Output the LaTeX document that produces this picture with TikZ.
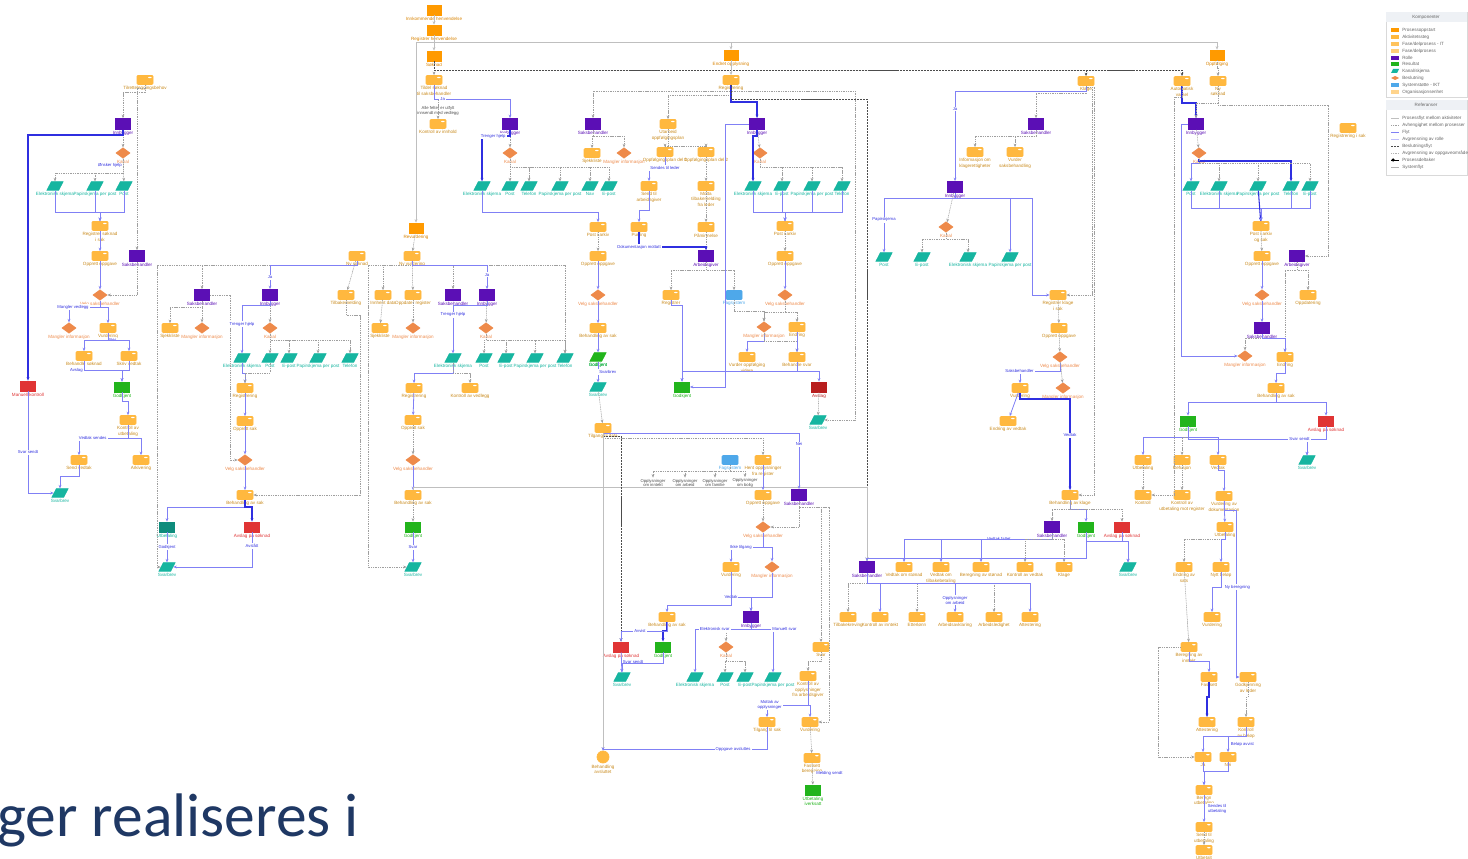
\documentclass[tikz,border=0pt]{standalone}
\usepackage{fontspec}
\setsansfont{Liberation Sans}
\newfontfamily\slidefont{Carlito}
\usepackage{tikz}
\usetikzlibrary{arrows.meta,shapes.geometric,calc}
\definecolor{orD}{HTML}{FF9A00}
\definecolor{orL}{HTML}{FFB83F}
\definecolor{orT}{HTML}{C98A1C}
\definecolor{pur}{HTML}{5B0FB5}
\definecolor{tea}{HTML}{16B5A0}
\definecolor{teaD}{HTML}{0E8C7C}
\definecolor{dia}{HTML}{EE8A4A}
\definecolor{grn}{HTML}{22B41C}
\definecolor{rdd}{HTML}{E03434}
\definecolor{rdD}{HTML}{B81E1E}
\definecolor{sky}{HTML}{4EA8EA}
\definecolor{blu}{HTML}{8080F5}
\definecolor{bld}{HTML}{2F2FE0}
\definecolor{navy}{HTML}{1F3864}
\definecolor{legbg}{HTML}{EEF1F5}

\begin{document}
\begin{tikzpicture}[x=0.2mm,y=-0.2mm,
>={Stealth[length=0.7mm,width=0.55mm]},
lab/.style={font=\fontsize{2.6}{3}\selectfont\sffamily,align=center,inner sep=0.25mm},
inbox/.style={draw=orD,fill=orD,minimum width=2.8mm,minimum height=2mm,inner sep=0pt,label={[lab,text=orD!85!black]below:#1}},
procbox/.style={draw=orL,fill=orL,rounded corners=0.2mm,minimum width=3.2mm,minimum height=1.8mm,inner sep=0pt,
  path picture={\fill[white] ([xshift=-1mm,yshift=-0.3mm]path picture bounding box.north east) rectangle ++(0.7mm,-0.25mm);},
  label={[lab,text=orT]below:#1}},
rolebox/.style={draw=pur,fill=pur,minimum width=3mm,minimum height=2.2mm,inner sep=0pt,label={[lab,text=pur]below:#1}},
chanbox/.style={trapezium,trapezium left angle=60,trapezium right angle=120,trapezium stretches=true,draw=tea,fill=tea,minimum width=3.2mm,minimum height=1.7mm,inner sep=0.15mm,label={[lab,text=tea]below:#1}},
okchan/.style={chanbox=#1,draw=grn,fill=grn,label={[lab,text=grn]below:#1}},
decbox/.style={diamond,draw=dia,fill=dia,minimum width=2.8mm,minimum height=2.1mm,inner sep=0.1mm,label={[lab,text=dia]below:#1}},
okbox/.style={draw=grn,fill=grn,minimum width=3mm,minimum height=2mm,inner sep=0pt,label={[lab,text=grn]below:#1}},
nobox/.style={draw=rdd,fill=rdd,minimum width=3mm,minimum height=2mm,inner sep=0pt,label={[lab,text=rdd]below:#1}},
nodbox/.style={draw=rdD,fill=rdD,minimum width=3mm,minimum height=2mm,inner sep=0pt,label={[lab,text=rdD]below:#1}},
paybox/.style={draw=teaD,fill=teaD,minimum width=3mm,minimum height=2mm,inner sep=0pt,label={[lab,text=tea]below:#1}},
sysbox/.style={draw=sky,fill=sky,rounded corners=0.2mm,minimum width=3.2mm,minimum height=1.8mm,inner sep=0pt,label={[lab,text=sky]below:#1}},
endbox/.style={circle,draw=orL,fill=orL,minimum size=2.4mm,inner sep=0pt,label={[lab,text=orT]below:#1}},
elab/.style={font=\fontsize{2.4}{2.8}\selectfont\sffamily,text=bld,fill=white,inner sep=0.2mm,align=center},
glab/.style={font=\fontsize{2.4}{2.8}\selectfont\sffamily,text=black!70,fill=white,inner sep=0.2mm,align=center},
leg/.style={font=\fontsize{2.6}{3}\selectfont\sffamily,text=black!60,anchor=west,inner sep=0pt},
gd/.style={draw=gray!75,line width=0.3pt,dash pattern=on 0.6pt off 0.4pt,->},
gs/.style={draw=gray!50,line width=0.3pt,->},
bl/.style={draw=blu,line width=0.45pt,->},
bd/.style={draw=bld,line width=0.6pt,->},
kd/.style={draw=black!70,line width=0.4pt,dash pattern=on 1.2pt off 0.5pt,->}
]
\fill[white] (0,0) rectangle (1468,859);
\useasboundingbox (0,0) rectangle (1468,859);

% top column
\node[inbox=Innkommende henvendelse] (s1) at (434,10) {};
\node[inbox=Registrer henvendelse] (s2) at (434,30) {};
\node[inbox=Søknad] (s3) at (434,56) {};
\node[procbox={Tildel søknad\\til saksbehandler}] (p1) at (434,80) {};
\node[glab] (p2t) at (438,111) {Alle felter er utfylt\\innsendt med vedlegg};
\node[procbox=Kontroll av innhold] (p2) at (438,124) {};
\node[inbox=Revurdering] (s4) at (416,228) {};
\node[procbox=Ny vurdering] (p3) at (412,256) {};

% left
\node[procbox=Tilretteleggingsbehov] (a0) at (145,80) {};
\node[rolebox=Innbygger] (a1) at (123,124) {};
\node[decbox=Kanal] (a2) at (123,153) {};
\node[chanbox=Elektronisk skjema] (a3) at (55,186) {};
\node[chanbox=Papirskjema per post] (a4) at (95,186) {};
\node[chanbox=Post] (a5) at (124,186) {};
\node[procbox={Registrer søknad\\i sak}] (a6) at (100,226) {};
\node[procbox=Opprett oppgave] (a7) at (100,256) {};
\node[rolebox=Saksbehandler] (a8) at (137,256) {};
\node[decbox=Velg saksbehandler] (a9) at (100,295) {};
\node[decbox=Mangler informasjon] (a10) at (69,328) {};
\node[procbox=Vurdering] (a11) at (108,328) {};
\node[procbox=Behandle søknad] (a12) at (84,356) {};
\node[procbox=Skriv vedtak] (a13) at (129,356) {};
\node[nobox=Manuell kontroll] (a14) at (28,386) {};
\node[okbox=Godkjent] (a15) at (122,387) {};
\node[procbox={Kontroll av\\utbetaling}] (a16) at (128,420) {};
\node[procbox=Send vedtak] (a17) at (79,460) {};
\node[procbox=Arkivering] (a18) at (141,460) {};
\node[chanbox=Svarbrev] (a19) at (60,493) {};

% block b
\node[procbox=Ny søknad] (b0) at (357,256) {};
\node[rolebox=Saksbehandler] (b1) at (202,295) {};
\node[rolebox=Innbygger] (b2) at (270,295) {};
\node[procbox=Tilbakemelding] (b3) at (346,295) {};
\node[procbox=Sjekkliste] (b4) at (170,328) {};
\node[decbox=Mangler informasjon] (b5) at (202,328) {};
\node[decbox=Kanal] (b6) at (270,328) {};
\node[chanbox=Elektronisk skjema] (b7) at (242,358) {};
\node[chanbox=Post] (b8) at (270,358) {};
\node[chanbox=E-post] (b9) at (289,358) {};
\node[chanbox=Papirskjema per post] (b10) at (318,358) {};
\node[chanbox=Telefon] (b11) at (350,358) {};
\node[procbox=Registrering] (b12) at (245,388) {};
\node[procbox=Opprett sak] (b13) at (245,421) {};
\node[decbox=Velg saksbehandler] (b14) at (245,460) {};
\node[procbox=Behandling av sak] (b15) at (245,495) {};
\node[paybox=Utbetaling] (b16) at (167,527) {};
\node[nobox=Avslag på søknad] (b17) at (252,527) {};
\node[chanbox=Svarbrev] (b18) at (167,567) {};

% block c
\node[procbox=Innhent data] (c1) at (383,295) {};
\node[procbox=Oppdater register] (c2) at (413,295) {};
\node[rolebox=Saksbehandler] (c3) at (453,295) {};
\node[rolebox=Innbygger] (c4) at (487,295) {};
\node[procbox=Sjekkliste] (c5) at (380,328) {};
\node[decbox=Mangler informasjon] (c6) at (413,328) {};
\node[decbox=Kanal] (c7) at (486,328) {};
\node[chanbox=Elektronisk skjema] (c8) at (453,358) {};
\node[chanbox=Post] (c9) at (484,358) {};
\node[chanbox=E-post] (c10) at (506,358) {};
\node[chanbox=Papirskjema per post] (c11) at (535,358) {};
\node[chanbox=Telefon] (c12) at (565,358) {};
\node[procbox=Registrering] (c13) at (414,388) {};
\node[procbox=Kontroll av vedlegg] (c14) at (470,388) {};
\node[procbox=Opprett sak] (c15) at (413,420) {};
\node[decbox=Velg saksbehandler] (c16) at (413,460) {};
\node[procbox=Behandling av sak] (c17) at (413,495) {};
\node[okbox=Godkjent] (c18) at (413,527) {};
\node[chanbox=Svarbrev] (c19) at (413,567) {};

% block d
\node[rolebox=Innbygger] (d1) at (510,124) {};
\node[decbox=Kanal] (d2) at (510,153) {};
\node[chanbox=Elektronisk skjema] (d3) at (482,186) {};
\node[chanbox=Post] (d4) at (510,186) {};
\node[chanbox=Telefon] (d5) at (529,186) {};
\node[chanbox=Papirskjema per post] (d6) at (560,186) {};
\node[chanbox=Nav] (d7) at (590,186) {};
\node[chanbox=E-post] (d8) at (609,186) {};
\node[procbox=Post i arkiv] (d9) at (598,227) {};
\node[procbox=Opprett oppgave] (d10) at (598,256) {};
\node[decbox=Velg saksbehandler] (d11) at (598,295) {};
\node[procbox=Behandling av sak] (d12) at (598,328) {};
\node[okchan=Godkjent] (d13) at (598,357) {};
\node[chanbox=Svarbrev] (d14) at (598,387) {};
\node[rolebox=Saksbehandler] (d15) at (593,124) {};
\node[procbox=Sjekkliste] (d16) at (592,153) {};
\node[decbox=Mangler informasjon] (d17) at (624,153) {};
\node[procbox={Utarbeid\\oppfølgingsplan}] (d18) at (668,124) {};
\node[procbox=Oppfølgingsplan del 1] (d19) at (665,152) {};
\node[procbox=Oppfølgingsplan del 2] (d20) at (706,152) {};
\node[procbox={Send til\\arbeidsgiver}] (d21) at (649,186) {};
\node[procbox={Motta\\tilbakemelding\\fra leder}] (d22) at (706,186) {};
\node[procbox=Purring] (d23) at (639,227) {};
\node[procbox=Påminnelse] (d24) at (706,227) {};
\node[rolebox=Arbeidsgiver] (d25) at (706,256) {};
\node[procbox=Registrer] (d26) at (671,295) {};
\node[sysbox=Fagsystem] (d27) at (734,295) {};
\node[decbox=Mangler informasjon] (d28) at (764,327) {};
\node[procbox=Endring] (d29) at (797,327) {};
\node[procbox={Vurder oppfølging\\videre}] (d30) at (747,357) {};
\node[procbox=Behandle svar] (d31) at (797,357) {};
\node[okbox=Godkjent] (d32) at (682,387) {};
\node[nodbox=Avslag] (d33) at (819,387) {};
\node[rolebox=Innbygger] (d34) at (757,124) {};
\node[decbox=Kanal] (d35) at (760,153) {};
\node[chanbox=Elektronisk skjema] (d36) at (753,186) {};
\node[chanbox=E-post] (d37) at (782,186) {};
\node[chanbox=Papirskjema per post] (d38) at (812,186) {};
\node[chanbox=Telefon] (d39) at (842,186) {};
\node[procbox=Post i arkiv] (d40) at (785,226) {};
\node[procbox=Opprett oppgave] (d41) at (785,256) {};
\node[decbox=Velg saksbehandler] (d42) at (785,295) {};
\node[chanbox=Svarbrev] (d43) at (818,420) {};
\node[inbox=Endret opplysning] (d44) at (731,55) {};
\node[procbox=Registrering] (d45) at (731,80) {};

% block e
\node[procbox=Tilgang til data] (e1) at (603,428) {};
\node[sysbox=Fagsystem] (e2) at (730,460) {};
\node[procbox={Hent opplysninger\\fra register}] (e3) at (763,460) {};
\node[glab] (e2a) at (653,483) {Opplysninger\\om inntekt};
\node[glab] (e2b) at (685,483) {Opplysninger\\om arbeid};
\node[glab] (e2c) at (715,483) {Opplysninger\\om familie};
\node[glab] (e2d) at (745,483) {Opplysninger\\om bolig};
\node[procbox=Opprett oppgave] (e4) at (763,495) {};
\node[rolebox=Saksbehandler] (e5) at (799,495) {};
\node[decbox=Velg saksbehandler] (e6) at (763,527) {};
\node[procbox=Vurdering] (e7) at (731,567) {};
\node[decbox=Mangler informasjon] (e8) at (772,567) {};
\node[rolebox=Innbygger] (e9) at (751,617) {};
\node[procbox=Behandling av sak] (e10) at (667,617) {};
\node[nobox=Avslag på søknad] (e11) at (621,647) {};
\node[okbox=Godkjent] (e12) at (663,647) {};
\node[decbox=Kanal] (e13) at (726,647) {};
\node[procbox=Svar] (e14) at (821,647) {};
\node[chanbox=Svarbrev] (e15) at (622,677) {};
\node[chanbox=Elektronisk skjema] (e16) at (695,677) {};
\node[chanbox=Post] (e17) at (725,677) {};
\node[chanbox=E-post] (e18) at (745,677) {};
\node[chanbox=Papirskjema per post] (e19) at (773,677) {};
\node[procbox={Kontroll av\\opplysninger\\fra arbeidsgiver}] (e20) at (808,676) {};
\node[procbox=Tilgang til sak] (e21) at (767,722) {};
\node[procbox=Vurdering] (e22) at (810,722) {};
\node[procbox={Fastsett\\beregning}] (e23) at (812,758) {};
\node[okbox={Utbetaling\\iverksatt}] (e24) at (813,790) {};
\node[endbox={Behandling\\avsluttet}] (e25) at (603,757) {};

% block f
\node[procbox=Klage] (f0) at (1086,81) {};
\node[rolebox=Saksbehandler] (f1) at (1036,124) {};
\node[procbox={Informasjon om\\klagerettigheter}] (f2) at (975,152) {};
\node[procbox={Vurder\\saksbehandling}] (f3) at (1015,152) {};
\node[rolebox=Innbygger] (f4) at (955,187) {};
\node[decbox=Kanal] (f5) at (946,227) {};
\node[chanbox=Post] (f6) at (884,257) {};
\node[chanbox=E-post] (f7) at (922,257) {};
\node[chanbox=Elektronisk skjema] (f8) at (968,257) {};
\node[chanbox=Papirskjema per post] (f9) at (1010,257) {};
\node[procbox={Registrer klage\\i sak}] (f10) at (1058,295) {};
\node[procbox=Opprett oppgave] (f11) at (1059,328) {};
\node[decbox=Velg saksbehandler] (f12) at (1060,357) {};
\node[decbox=Mangler informasjon] (f13) at (1063,388) {};
\node[procbox=Vurdering] (f14) at (1020,388) {};
\node[procbox=Endring av vedtak] (f15) at (1008,421) {};
\node[procbox=Behandling av klage] (f16) at (1070,495) {};

% block g
\node[inbox=Oppfølging] (g0) at (1217,55) {};
\node[procbox={Automatisk\\varsel}] (g1) at (1182,81) {};
\node[procbox={Ny\\søknad}] (g2) at (1218,81) {};
\node[rolebox=Innbygger] (g3) at (1196,124) {};
\node[decbox=Kanal] (g4) at (1199,153) {};
\node[chanbox=Post] (g5) at (1191,186) {};
\node[chanbox=Elektronisk skjema] (g6) at (1219,186) {};
\node[chanbox=Papirskjema per post] (g7) at (1258,186) {};
\node[chanbox=Telefon] (g8) at (1291,186) {};
\node[chanbox=E-post] (g9) at (1310,186) {};
\node[procbox={Post i arkiv\\og sak}] (g10) at (1261,226) {};
\node[procbox=Opprett oppgave] (g11) at (1262,256) {};
\node[rolebox=Arbeidsgiver] (g12) at (1297,256) {};
\node[decbox=Velg saksbehandler] (g13) at (1262,295) {};
\node[procbox=Oppdatering] (g14) at (1308,295) {};
\node[rolebox=Saksbehandler] (g15) at (1262,328) {};
\node[decbox=Mangler informasjon] (g16) at (1245,356) {};
\node[procbox=Endring] (g17) at (1285,357) {};
\node[procbox=Behandling av sak] (g18) at (1276,388) {};
\node[okbox=Godkjent] (g19) at (1188,421) {};
\node[nobox=Avslag på søknad] (g20) at (1326,421) {};
\node[procbox=Registrering i sak] (g21) at (1348,128) {};
\node[chanbox=Svarbrev] (g22) at (1307,460) {};
\node[procbox=Utbetaling] (g23) at (1143,460) {};
\node[procbox=Refusjon] (g24) at (1182,460) {};
\node[procbox=Vedtak] (g25) at (1218,460) {};

% block h
\node[procbox=Kontroll] (h1) at (1143,495) {};
\node[procbox={Kontroll av\\utbetaling mot register}] (h2) at (1182,495) {};
\node[procbox={Vurdering av\\dokumentasjon}] (h3) at (1224,496) {};
\node[procbox=Utbetaling] (h4) at (1225,527) {};
\node[procbox={Endring av\\sats}] (h5) at (1184,567) {};
\node[procbox=Nytt beløp] (h6) at (1221,567) {};
\node[procbox=Vurdering] (h7) at (1212,617) {};
\node[procbox={Beregning av\\inntekt}] (h8) at (1189,647) {};
\node[procbox=Fastsett] (h9) at (1209,677) {};
\node[procbox={Godkjenning\\av leder}] (h10) at (1248,677) {};
\node[procbox=Attestering] (h11) at (1207,722) {};
\node[procbox={Kontroll\\av beløp}] (h12) at (1246,722) {};
\node[procbox=Ja] (h13) at (1203,757) {};
\node[procbox=Nei] (h14) at (1228,757) {};
\node[procbox={Beregn\\utbetaling}] (h15) at (1204,790) {};
\node[procbox={Send til\\utbetaling}] (h16) at (1204,827) {};
\node[procbox=Utbetalt] (h17) at (1204,850) {};

% block i
\node[rolebox=Saksbehandler] (i1) at (1052,527) {};
\node[okbox=Godkjent] (i2) at (1086,527) {};
\node[nobox=Avslag på søknad] (i3) at (1122,527) {};
\node[chanbox=Svarbrev] (i4) at (1128,567) {};
\node[rolebox=Saksbehandler] (i5) at (867,567) {};
\node[procbox=Vedtak om stønad] (i6) at (904,567) {};
\node[procbox={Vedtak om\\tilbakebetaling}] (i7) at (941,567) {};
\node[procbox=Beregning av stønad] (i8) at (981,567) {};
\node[procbox=Kontroll av vedtak] (i9) at (1025,567) {};
\node[procbox=Klage] (i10) at (1064,567) {};
\node[procbox=Tilbakekreving] (i11) at (848,617) {};
\node[procbox=Kontroll av inntekt] (i12) at (880,617) {};
\node[procbox=Etterlønn] (i13) at (917,617) {};
\node[procbox=Arbeidsavklaring] (i14) at (955,617) {};
\node[procbox=Arbeidsledighet] (i15) at (994,617) {};
\node[procbox=Attestering] (i16) at (1030,617) {};

% connectors: top
\draw[gs] (s1) -- (s2);
\draw[gs] (s2) -- (s3);
\draw[gd] (s3) -- (p1);
\draw[gs] (s2) -- ++(0,12) -| (d44);
\draw[gs] (s2) -- ++(0,12) -| (g0);
\draw[gs] (s2) -- ++(0,12) -| (s4);
\draw[kd] (s3) -- ++(0,14) -| (g1);
\draw[kd] (s3) -- ++(0,14) -| (f0);
\draw[gd] (p1) -- ++(0,19) -| (p2);
\draw[bl] (p1) -- ++(0,19) node[elab,pos=1,right=1mm]{Ja} -| (d1);
\draw[gd] (s4) -- (p3);
\draw[gs] (d44) -- (d45);
\draw[gd] (d45) -- ++(0,11) -| (d15);
\draw[gd] (d45) -- ++(0,11) -- ++(124,0) |- (d43);
\draw[gd] (d45) -- ++(0,15) -| (d18);
\draw[bd] (d45) -- ++(0,22) -| (d34);
\draw[kd] (d45) -- ++(0,19) -| (i5);

% connectors: left
\draw[gd] (a0) -- ++(0,12) -| (a1);
\draw[gd] (a0) -- ++(0,8) -| (a8);
\draw[gd] (a1) -- (a2);
\draw[bd] (a1) -- ++(0,11) -| (a14);
\draw[gd] (a2) -- ++(0,20) node[elab,pos=.5,left]{Ønsker hjelp} -| (a3);
\draw[gd] (a2) -- ++(0,20) -| (a4);
\draw[gd] (a2) -- (a5);
\draw[bl] (a3) -- ++(0,26) -| (a6);
\draw[bl] (a4) -- ++(0,26) -| (a6);
\draw[bl] (a5) -- ++(0,26) -| (a6);
\draw[bl] (a6) -- (a7);
\draw[bl] (a7) -- (a9);
\draw[gd] (a8) |- (a9);
\draw[bl] (a9) -- ++(0,12) node[elab,pos=1,left=2mm]{Mangler vedlegg} -| (a10);
\draw[bl] (a9) -- ++(0,12) -| (a11);
\draw[bl] (a11) -- ++(0,12) node[elab,pos=1,right]{Nei} -| (a12);
\draw[bl] (a11) -- ++(0,12) -| (a13);
\draw[bl] (a12) -- ++(0,14) node[elab,pos=1,left]{Avslag} -| (a15);
\draw[bl] (a13) -- ++(0,14) -| (a15);
\draw[bl] (a15) -- ++(0,14) -| (a16);
\draw[bl] (a16) -- ++(0,18) node[elab,pos=1,left=4mm]{Vedtak sendes} -| (a17);
\draw[bl] (a16) -- ++(0,18) -| (a18);
\draw[bl] (a17) -- ++(0,16) -| (a19);
\draw[bl] (a14) |- node[elab,pos=.3]{Svar sendt} (a19);

% connectors: block b
\draw[gd] (b0) -- ++(0,9) -- ++(-200,0) |- (b18);
\draw[gd] (b0) -- ++(0,9) -| (b1);
\draw[bl] (b0) -- ++(0,9) -| node[elab,pos=.75]{Ja} (b2);
\draw[gd] (b0) -- (b3);
\draw[gd] (b3) -- ++(0,20) -- ++(14,0) |- (b15);
\draw[gd] (b1) -- ++(0,12) -| (b4);
\draw[gd] (b1) -- (b5);
\draw[gd] (b1.east) -- ++(20,0) |- (b14);
\draw[gd] (b2) -- (b6);
\draw[bl] (b2) -- ++(0,10) -| node[elab,pos=.7]{Trenger hjelp} (b7);
\draw[gd] (b6) -- ++(0,12) -| (b8);
\draw[gd] (b6) -- ++(0,12) -| (b9);
\draw[gd] (b6) -- ++(0,12) -| (b10);
\draw[gd] (b6) -- ++(0,12) -| (b11);
\draw[bl] (b7) -- ++(0,15) -| (b12);
\draw[gd] (b8) -- ++(0,15) -| (b12);
\draw[bl] (b12) -- (b13);
\draw[bl] (b13) -- (b14);
\draw[bl] (b14) -- (b15);
\draw[bl] (b15) -- ++(0,12) -| (b16);
\draw[bd] (b15) -- ++(0,12) -| (b17);
\draw[bl] (b16) -- node[elab]{Godkjent} (b18);
\draw[bl] (b17) |- node[elab,pos=.2]{Avslått} (b18);

% connectors: block c
\draw[gd] (p3) -- ++(0,9) -- ++(-44,0) |- (c19);
\draw[gd] (p3) -- ++(0,9) -| (c12);
\draw[gd] (p3) -- ++(0,9) -| (c1);
\draw[gd] (p3) -- (c2);
\draw[gd] (p3) -- ++(0,9) -| (c3);
\draw[bl] (p3) -- ++(0,9) -| node[elab,pos=.7]{Ja} (c4);
\draw[gd] (c1) -- (c5);
\draw[gd] (c2) -- (c6);
\draw[gd] (c4) -- (c7);
\draw[bl] (c4) -- ++(0,10) -| node[elab,pos=.6]{Trenger hjelp} (c8);
\draw[gd] (c7) -- ++(0,12) -| (c9);
\draw[gd] (c7) -- ++(0,12) -| (c10);
\draw[gd] (c7) -- ++(0,12) -| (c11);
\draw[gd] (c7) -- ++(0,12) -| (c12);
\draw[bl] (c8) -- ++(0,15) -| (c13);
\draw[gd] (c8) -- ++(0,15) -| (c14);
\draw[bl] (c13) -- (c15);
\draw[gd] (c15) -- (c16);
\draw[bl] (c16) -- (c17);
\draw[gd] (c17) -- (c18);
\draw[bl] (c18) -- node[elab]{Svar} (c19);
\draw[gs] (c17) -- ++(0,-8) -| (i5);

% connectors: block d
\draw[gd] (d1) -- (d2);
\draw[bd] (d1) -- ++(0,12) -| node[elab,pos=.3]{Trenger hjelp} (d3);
\draw[gd] (d2) -- ++(0,14) -| (d4);
\draw[gd] (d2) -- ++(0,14) -| (d5);
\draw[gd] (d2) -- ++(0,14) -| (d6);
\draw[gd] (d2) -- ++(0,14) -| (d7);
\draw[gd] (d2) -- ++(0,14) -| (d8);
\draw[bl] (d3) -- ++(0,26) -| (d9);
\draw[gd] (d9) -- (d10);
\draw[bl] (d10) -- (d11);
\draw[bl] (d11) -- (d12);
\draw[bl] (d12) -- (d13);
\draw[bl] (d13) -- node[elab,right]{Svarbrev} (d14);
\draw[gd] (d15) -- ++(0,12) -| (d16);
\draw[gd] (d15) -- ++(0,12) -| (d17);
\draw[gd] (d18) -- ++(0,22) -| (d19);
\draw[gd] (d18) -- ++(0,22) -| (d20);
\draw[bl] (d19) -- ++(0,16) node[elab,pos=1]{Sendes til leder} -| (d21);
\draw[gd] (d20) -- (d22);
\draw[bl] (d21) -- ++(0,24) -| (d23);
\draw[gd] (d22) -- (d24);
\draw[gd] (d24) -- (d25);
\draw[bd] (d23) -- ++(0,20) node[elab,pos=1]{Dokumentasjon mottatt} -| (d25);
\draw[gd] (d25) -- ++(0,14) -| (d26);
\draw[gd] (d25) -- ++(0,14) -| (d27);
\draw[gd] (d27) -- ++(0,16) -| (d28);
\draw[bl] (d28) -- ++(0,14) -| (d30);
\draw[gd] (d28) -- ++(0,14) -| (d31);
\draw[bl] (d29) -- (d31);
\draw[bl] (d26) -- ++(0,10) -| (d32);
\draw[bl] (d31) -- ++(0,14) -| (d32);
\draw[bl] (d31) -- ++(0,14) -| (d33);
\draw[gd] (d33) -- (d43);
\draw[gd] (d34) -- (d35);
\draw[bd] (d34) -- ++(0,12) -| (d36);
\draw[bl] (d34.west) -- ++(-24,0) |- (d32);
\draw[gd] (d35) -- ++(0,14) -| (d37);
\draw[gd] (d35) -- ++(0,14) -| (d38);
\draw[gd] (d35) -- ++(0,14) -| (d39);
\draw[bl] (d36) -- ++(0,26) -| (d40);
\draw[bl] (d37) -- ++(0,26) -| (d40);
\draw[bl] (d38) -- ++(0,26) -| (d40);
\draw[bl] (d39) -- ++(0,26) -| (d40);
\draw[gd] (d40) -- (d41);
\draw[bl] (d41) -- (d42);
\draw[gd] (d42) -- ++(0,17) -| (d28);
\draw[gd] (d42) -- ++(0,17) -| (d29);

% connectors: block e
\draw[gd] (d14) -- (e1);
\draw[gd] (e1) -- ++(0,10) -| (e3);
\draw[bl] (e1) -- ++(0,5) -| node[elab,pos=.6]{Nei} (e5);
\draw[kd] (e1) -- ++(0,8) -| (e11);
\draw[gs] (e1) -- (e25);
\draw[gd] (e2) -- ++(0,11) -| (e2a);
\draw[gd] (e2) -- ++(0,11) -| (e2b);
\draw[gd] (e2) -- ++(0,11) -| (e2c);
\draw[gd] (e2) -- ++(0,11) -| (e2d);
\draw[bl] (e3) -- (e4);
\draw[gd] (e4) -- (e6);
\draw[gd] (e5) |- (e6);
\draw[bl] (e6) -- ++(0,20) node[elab,pos=1,left=2mm]{Ikke tilgang} -| (e7);
\draw[bl] (e6) -- ++(0,20) -| (e8);
\draw[bl] (e7) -- ++(0,30) node[elab,pos=1]{Vedtak} -| (e9);
\draw[bl] (e8) -- ++(0,30) -| (e9);
\draw[bl] (e7) -- ++(0,38) -| (e10);
\draw[bd] (e10) -- ++(0,14) -| (e12);
\draw[bl] (e10) -- ++(0,14) node[elab,pos=1,left=4mm]{Avvist} -| (e11);
\draw[bl] (e11) -- node[elab,right]{Svar sendt} (e15);
\draw[bl] (e12) -- ++(0,16) -| (e15);
\draw[gd] (e9) -- ++(0,12) -| (e13);
\draw[bl] (e9) -- ++(0,12) node[elab,pos=1,left=4mm]{Elektronisk svar} -| (e16);
\draw[bl] (e9) -- ++(0,12) node[elab,pos=1,right=4mm]{Manuelt svar} -| (e19);
\draw[gd] (e13) -- ++(0,14) -| (e17);
\draw[gd] (e13) -- ++(0,14) -| (e18);
\draw[gd] (e5) -- ++(0,12) -| (e14);
\draw[gd] (e5) -- ++(0,12) -- ++(30,0) |- (e22);
\draw[gd] (e14) -- ++(0,14) -| (e20);
\draw[bl] (e20) -- ++(0,29) node[elab,pos=1,left=5mm]{Mottak av\\opplysninger} -| (e21);
\draw[bl] (e20) -- ++(0,29) -| (e22);
\draw[bl] (e21) -- ++(0,27) node[elab,pos=1,left=3mm]{Oppgave avsluttes} -| (e25);
\draw[gd] (e22) -- (e23);
\draw[gd] (e23) -- node[elab,right=0.5mm]{Melding sendt} (e24);

% connectors: block f
\draw[gd] (f0) -- ++(0,12) -| (f1);
\draw[bl] (f0) -- ++(0,10) -| node[elab,pos=.6]{Ja} (f4);
\draw[gd] (f0) -- ++(0,6) -- ++(8,0) |- (f16);
\draw[gd] (f0) -- ++(0,6) -- ++(6,0) |- (f10);
\draw[gd] (f1) -- ++(0,12) -| (f2);
\draw[gd] (f1) -- ++(0,12) -| (f3);
\draw[gd] (f4) -- (f5);
\draw[bl] (f4) -- ++(0,11) -| node[elab,pos=.7]{Papirskjema} (f6);
\draw[bl] (f4) -- ++(0,11) -| (f9);
\draw[bl] (f4) -- ++(0,11) -- ++(77,0) |- (f10);
\draw[gd] (f5) -- ++(0,12) -| (f7);
\draw[gd] (f5) -- ++(0,12) -| (f8);
\draw[gd] (f10) -- (f11);
\draw[gd] (f11) -- (f12);
\draw[bl] (f12) -- ++(0,14) node[elab,pos=1,left=5mm]{Saksbehandler} -| (f14);
\draw[gd] (f12) -- (f13);
\draw[bl] (f14) -- (f15);
\draw[bd] (f14) -- ++(0,11) -| node[elab,pos=.7]{Vedtak} (f16);

% connectors: block g
\draw[gd] (g0) -- ++(0,13) -| (g2);
\draw[bd] (g1) -- ++(0,22) -| (g3);
\draw[gd] (g2) -- ++(0,22) -| (g3);
\draw[gd] (g2) -- ++(0,24) -- ++(110,0) |- (g12);
\draw[gd] (g1) -- ++(0,16) -- ++(-8,0) |- (h1);
\draw[gd] (g3) -- (g4);
\draw[bl] (g3.west) -- ++(-7,0) |- (g16);
\draw[bl] (g4) -- ++(0,10) -| (g5);
\draw[gd] (g4) -- ++(0,10) -| (g6);
\draw[gd] (g4) -- ++(0,10) -| (g7);
\draw[bd] (g4) -- ++(0,8) -| (g8);
\draw[gd] (g4) -- ++(0,10) -| (g9);
\draw[bl] (g5) -- ++(0,22) -| (g10);
\draw[bl] (g6) -- ++(0,22) -| (g10);
\draw[bd] (g7) -- (g10);
\draw[bl] (g8) -- ++(0,22) -| (g10);
\draw[bl] (g9) -- ++(0,22) -| (g10);
\draw[gd] (g10) -- (g11);
\draw[bl] (g11) -- (g13);
\draw[gd] (g12) -- ++(0,14) -| (g14);
\draw[gd] (g12) -- ++(0,14) -| (g17);
\draw[bl] (g13) -- (g15);
\draw[gd] (g15) -- ++(0,10) -| (g16);
\draw[bl] (g15) -- ++(0,10) -| (g17);
\draw[bl] (g17) -- ++(0,16) -| (g18);
\draw[bl] (g18) -- ++(0,14) -| (g19);
\draw[bl] (g18) -- ++(0,14) -| (g20);
\draw[bl] (g19) -- ++(0,16) -| (g23);
\draw[gd] (g19) -- ++(0,16) -| (g24);
\draw[bl] (g19) -- ++(0,16) -| (g25);
\draw[bl] (g19) -- ++(0,18) -| (g22);
\draw[bl] (g20) -- ++(0,18) node[elab,pos=1,left=3mm]{Svar sendt} -| (g22);

% connectors: block h
\draw[gd] (g23) -- (h1);
\draw[gd] (g24) -- (h2);
\draw[bl] (g25) -- ++(0,10) -| (h3);
\draw[bl] (h3) -- (h4);
\draw[bl] (h3) -- ++(0,14) -- ++(12,0) |- (h10);
\draw[gd] (h4) -- ++(0,12) -| (h5);
\draw[bl] (h4) -- ++(0,12) -| (h6);
\draw[bl] (h6) -- ++(0,20) node[elab,pos=1,right=0.5mm]{Ny beregning} -| (h7);
\draw[gd] (h5) -- (h8);
\draw[bl] (h8) -- ++(0,14) -| (h9);
\draw[gd] (h8.west) -- ++(-22,0) |- (h13);
\draw[bd] (h9) -- ++(0,20) -| (h11);
\draw[gd] (h10) -- ++(0,20) -| (h12);
\draw[bl] (h12) -- ++(0,14) -| (h13);
\draw[bl] (h12) -- ++(0,14) -| node[elab,pos=.75,right=0.3mm]{Beløp avvist} (h14);
\draw[bl] (h13) -- ++(0,14) -| (h15);
\draw[bl] (h14) -- ++(0,14) -| (h15);
\draw[bl] (h15) -- node[elab,right=0.5mm]{Sendes til\\utbetaling} (h16);
\draw[gd] (h16) -- (h17);

% connectors: block i
\draw[gd] (f16) -- ++(0,14) -| (i1);
\draw[bl] (f16) -- ++(0,14) -| (i2);
\draw[gd] (f16) -- ++(0,14) -| (i3);
\draw[bl] (i1) -- ++(0,12) node[elab,pos=1,left=8mm]{Vedtak fattet} -| (i6);
\draw[bl] (i1) -- ++(0,12) -| (i7);
\draw[bl] (i1) -- ++(0,12) -| (i8);
\draw[gd] (i1) -- ++(0,12) -| (i9);
\draw[gd] (i1) -- ++(0,12) -| (i10);
\draw[bl] (i2) -- ++(0,31) -| (i5);
\draw[bl] (i2) -- ++(0,14) -| (i4);
\draw[bl] (i3) -- ++(0,14) -| (i4);
\draw[gd] (i5) -- ++(0,16) -| (i11);
\draw[bl] (i5) -- ++(0,16) -| (i12);
\draw[gd] (i5) -- ++(0,16) -| (i13);
\draw[bl] (i5) -- ++(0,16) -| node[elab,pos=.8]{Opplysninger\\om arbeid} (i14);
\draw[gd] (i5) -- ++(0,16) -| (i15);
\draw[bl] (i5) -- ++(0,16) -| (i16);

% legend
\draw[gray!30,line width=0.3pt,fill=white] (1386,12) rectangle (1467,97);
\fill[legbg] (1386.3,12.3) rectangle (1466.7,22);
\node[leg,anchor=center] at (1426,17) {Komponenter};
\fill[orD] (1391,28) rectangle (1399,32); \node[leg] at (1402,30) {Prosessoppstart};
\fill[orL] (1391,35) rectangle (1399,39); \node[leg] at (1402,37) {Aktivitetssteg};
\fill[orL!85] (1391,42) rectangle (1399,46); \node[leg] at (1402,44) {Fase/delprosess - IT};
\fill[orL!70] (1391,49) rectangle (1399,53); \node[leg] at (1402,51) {Fase/delprosess};
\fill[pur] (1391,56) rectangle (1399,60); \node[leg] at (1402,58) {Rolle};
\fill[grn] (1391,62) rectangle (1399,66); \node[leg] at (1402,64) {Resultat};
\fill[tea] (1392,73) -- (1391,73) -- (1393,69) -- (1399,69) -- (1397,73) -- cycle; \node[leg] at (1402,71) {Kanal/skjema};
\fill[dia] (1395,76) -- (1399,78) -- (1395,80) -- (1391,78) -- cycle; \node[leg] at (1402,78) {Beslutning};
\fill[sky] (1391,83) rectangle (1399,87); \node[leg] at (1402,85) {Systemstøtte - IKT};
\fill[orL!60] (1391,90) rectangle (1399,94); \node[leg] at (1402,92) {Organisasjonsenhet};
\draw[gray!30,line width=0.3pt,fill=white] (1386,100) rectangle (1467,175);
\fill[legbg] (1386.3,100.3) rectangle (1466.7,110);
\node[leg,anchor=center] at (1426,105) {Referanser};
\draw[gray!50,line width=0.3pt] (1391,118) -- (1399,118); \node[leg] at (1402,118) {Prosessflyt mellom aktiviteter};
\draw[gray!75,line width=0.3pt,dash pattern=on 0.6pt off 0.4pt] (1391,125) -- (1399,125); \node[leg] at (1402,125) {Avhengighet mellom prosesser};
\draw[blu,line width=0.45pt] (1391,132) -- (1399,132); \node[leg] at (1402,132) {Flyt};
\draw[blu!50,line width=0.45pt] (1391,139) -- (1399,139); \node[leg] at (1402,139) {Avgrensning av rolle};
\draw[black!70,line width=0.4pt,dash pattern=on 1.2pt off 0.5pt] (1391,146) -- (1399,146); \node[leg] at (1402,146) {Beslutningsflyt};
\draw[gray!60,line width=0.3pt,dash pattern=on 0.4pt off 0.6pt] (1391,153) -- (1399,153); \node[leg] at (1402,153) {Avgrensning av oppgaveområde};
\draw[black,line width=0.4pt] (1391,160) -- (1399,160); \fill (1393,160) circle (0.35mm); \node[leg] at (1402,160) {Prosessdeltaker};
\draw[gray!60,line width=0.3pt] (1391,167) -- (1399,167); \node[leg] at (1402,167) {Systemflyt};

% slide text
\node[anchor=base west,inner sep=0pt,text=navy,font=\slidefont\fontsize{35}{40}\selectfont] (slidetxt) at (-3,836) {ger realiseres i};
\end{tikzpicture}
\end{document}
